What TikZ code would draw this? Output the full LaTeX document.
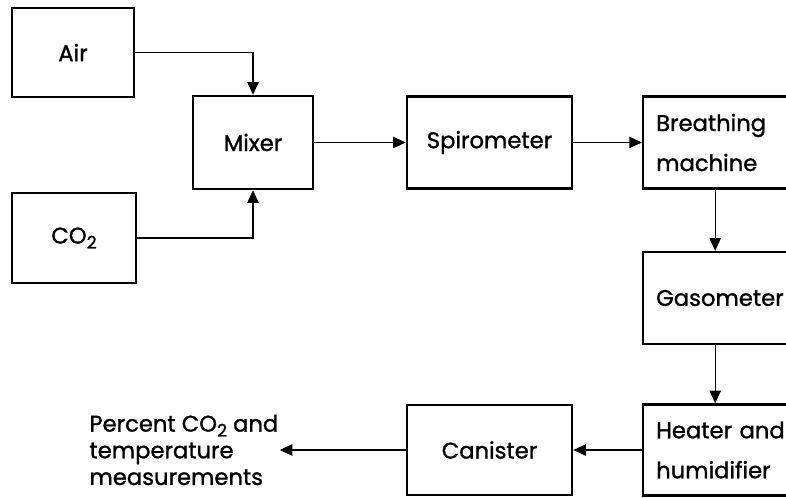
\documentclass[tikz,border=0pt]{standalone}
\usepackage{fontspec}
\setmainfont{Poppins}[BoldFont={Poppins}, BoldFeatures={FakeBold=1.2}]
\usetikzlibrary{arrows.meta}

\newcommand{\subtwo}{\raisebox{-0.4ex}{\fontsize{13}{13}\selectfont 2}}

\tikzset{every picture/.style={line width=0.75pt}}
\tikzset{
	blk/.style={draw, line width=1.8pt, inner sep=0pt, align=center, font=\fontsize{17}{30}\selectfont\bfseries},
	sideblk/.style={blk, anchor=west, align=left, text width=88.5pt, inner xsep=9.75pt, minimum height=69pt},
	flow/.style={line width=1pt, -{Triangle[length=9.5pt,width=8.5pt]}}
}

\begin{document}
\begin{tikzpicture}[x=0.75pt,y=0.75pt,yscale=-1,xscale=1]
			\useasboundingbox (0,0) rectangle (786,497);
			\clip (0,0) rectangle (786,497);
			
			%Shape: Rectangle 
			\node (air) [blk, minimum width=91.5pt, minimum height=66.75pt] at (73,52.5) {Air};
			%Shape: Rectangle 
			\node (co2) [blk, minimum width=93pt, minimum height=67.5pt] at (74,238) {CO\subtwo};
			%Shape: Rectangle 
			\node (mixer) [blk, minimum width=90pt, minimum height=69.75pt] at (253,142.5) {Mixer};
			%Shape: Rectangle 
			\node (spiro) [blk, minimum width=123.75pt, minimum height=69pt] at (489.5,142.5) {Spirometer};
			%Shape: Rectangle 
			\node (breath) [sideblk] at (642,142.5) {\mbox{Breathing}\\\mbox{machine}};
			%Shape: Rectangle 
			\node (gaso) [sideblk] at (642,298) {\mbox{Gasometer}};
			%Shape: Rectangle 
			\node (heater) [sideblk, minimum height=68.25pt] at (642,450) {\mbox{Heater and}\\\mbox{humidifier}};
			%Shape: Rectangle 
			\node (canister) [blk, minimum width=123.75pt, minimum height=67.5pt] at (489.5,450) {Canister};
			
			% Text Node
			\node (meas) [anchor=west, align=left, inner sep=0.75pt, font=\fontsize{17}{20}\selectfont\bfseries] at (88,450) {Percent CO\subtwo{} and\\temperature\\measurements};
			
			%Straight Lines 
			\draw [flow] (air.east) -| (mixer.north) ;
			%Straight Lines 
			\draw [flow] (co2.east) -| (mixer.south) ;
			%Straight Lines 
			\draw [flow] (mixer.east) -- (spiro.west) ;
			%Straight Lines 
			\draw [flow] (spiro.east) -- (breath.west) ;
			%Straight Lines 
			\draw [flow] (breath.south) -- (gaso.north) ;
			%Straight Lines 
			\draw [flow] (gaso.south) -- (heater.north) ;
			%Straight Lines 
			\draw [flow] (heater.west) -- (canister.east) ;
			%Straight Lines 
			\draw [flow] (canister.west) -- (meas.east) ;
		\end{tikzpicture}
\end{document}
